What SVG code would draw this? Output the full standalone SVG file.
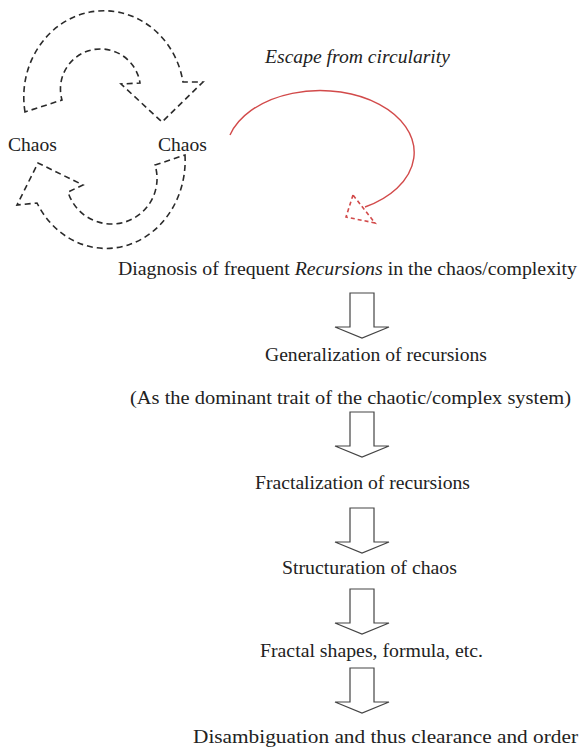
<svg xmlns="http://www.w3.org/2000/svg" width="583" height="750" viewBox="0 0 583 750">
  <defs>
    <style>
      text { font-family: "Liberation Serif", serif; font-size: 19px; fill: #222; }
      .it { font-style: italic; }
      .cycle { fill: none; stroke: #2a2a2a; stroke-width: 1.6; stroke-dasharray: 6 4; stroke-linejoin: miter; }
      .escape { fill: none; stroke: #d24a4a; stroke-width: 1.4; }
      .escape-head { fill: none; stroke: #d24a4a; stroke-width: 1.6; stroke-dasharray: 4 3; }
      .block { fill: #fff; stroke: #444; stroke-width: 1.2; }
    </style>
    <!-- hollow block arrow pointing down, origin at its top centre -->
    <polygon id="down" class="block" points="-12,0 12,0 12,34 27,34 0,45 -27,34 -12,34"/>
  </defs>

  <!-- cycle between the two chaos states -->
  <g id="cycle-top">
    <path class="cycle" d="M 25 112 A 80 86 0 1 1 183 82 L 203 82 L 162 122 L 121 84 L 140 83 A 40 40 0 1 0 62 100 Z"/>
  </g>
  <g id="cycle-bottom">
    <path class="cycle" d="M 185 155 A 79 88 0 0 1 37 203 L 17 205 L 38 163 L 83 185 L 68 192 A 43 43 0 1 0 155 165 Z"/>
  </g>
  <g id="chaos-left">
    <text x="8" y="151" textLength="49" lengthAdjust="spacingAndGlyphs">Chaos</text>
  </g>
  <g id="chaos-right">
    <text x="158" y="151" textLength="49" lengthAdjust="spacingAndGlyphs">Chaos</text>
  </g>

  <!-- way out of the loop -->
  <g id="escape">
    <text class="it" x="265" y="63" textLength="185" lengthAdjust="spacingAndGlyphs">Escape from circularity</text>
    <path class="escape" d="M 230 135 A 94 62 0 1 1 365 207"/>
    <polygon class="escape-head" points="353,195 346,217 375,223"/>
  </g>

  <!-- sequence of steps -->
  <g id="step-diagnosis">
    <text x="118" y="275" textLength="459" lengthAdjust="spacingAndGlyphs">Diagnosis of frequent <tspan class="it">Recursions</tspan> in the chaos/complexity</text>
  </g>
  <g id="step-generalization">
    <text x="265" y="361" textLength="222" lengthAdjust="spacingAndGlyphs">Generalization of recursions</text>
    <text x="130" y="404" textLength="441" lengthAdjust="spacingAndGlyphs">(As the dominant trait of the chaotic/complex system)</text>
  </g>
  <g id="step-fractalization">
    <text x="255" y="489" textLength="215" lengthAdjust="spacingAndGlyphs">Fractalization of recursions</text>
  </g>
  <g id="step-structuration">
    <text x="282" y="574" textLength="175" lengthAdjust="spacingAndGlyphs">Structuration of chaos</text>
  </g>
  <g id="step-shapes">
    <text x="260" y="657" textLength="223" lengthAdjust="spacingAndGlyphs">Fractal shapes, formula, etc.</text>
  </g>
  <g id="step-disambiguation">
    <text x="193" y="743" textLength="385" lengthAdjust="spacingAndGlyphs">Disambiguation and thus clearance and order</text>
  </g>

  <g id="connectors">
    <use href="#down" x="362" y="293"/>
    <use href="#down" x="362" y="412"/>
    <use href="#down" x="362" y="508"/>
    <use href="#down" x="362" y="589"/>
    <use href="#down" x="362" y="668"/>
  </g>
</svg>
